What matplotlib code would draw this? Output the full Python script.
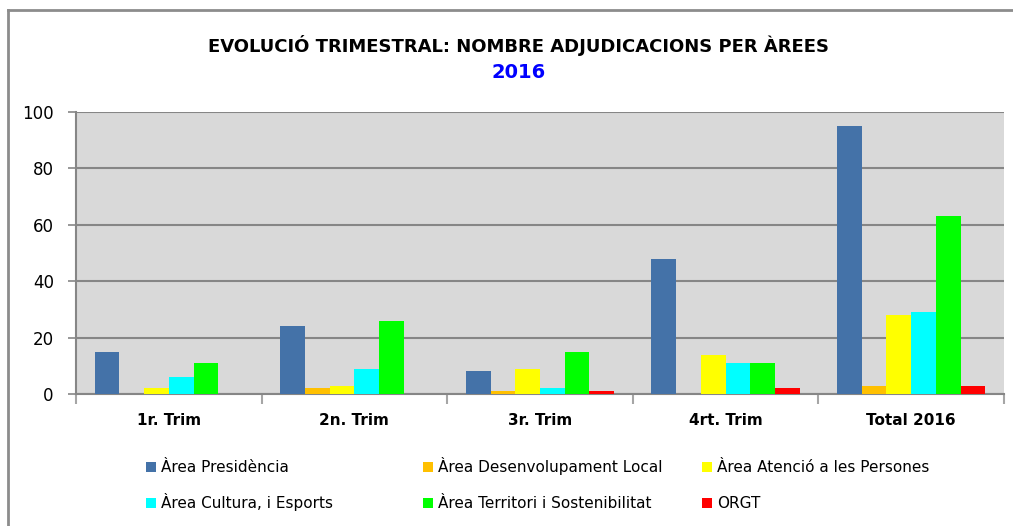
import matplotlib.pyplot as plt
from matplotlib.patches import Rectangle
import numpy as np

# === Dades ===
trimestres = ["1r. Trim", "2n. Trim", "3r. Trim", "4rt. Trim", "Total 2016"]
arees = ["Àrea Presidència", "Àrea Desenvolupament Local", "Àrea Atenció a les Persones",
         "Àrea Cultura, i Esports", "Àrea Territori i Sostenibilitat", "ORGT"]
presidencia = [15, 24, 8, 48, 95]
desenvolupament = [0, 2, 1, 0, 3]
atencio = [2, 3, 9, 14, 28]
cultura = [6, 9, 2, 11, 29]
territori = [11, 26, 15, 11, 63]
orgt = [0, 0, 1, 2, 3]
colors = ["#4472A8", "#FFC000", "#FFFF00", "#00FFFF", "#00FF00", "#FF0000"]

series = [presidencia, desenvolupament, atencio, cultura, territori, orgt]

fig = plt.figure(figsize=(10.13, 5.26), dpi=100)
W, H = 1013, 526
ax = fig.add_axes([76 / W, 1 - 394 / H, (1004 - 76) / W, (394 - 112) / H])
ax.set_facecolor("#D9D9D9")

x = np.arange(len(trimestres))
w = 0.8 / len(series)
for i, (vals, c, nom) in enumerate(zip(series, colors, arees)):
    ax.bar(x + (i - 2.5) * w, vals, width=w, color=c, label=nom, zorder=3)

ax.set_xlim(-0.5, len(trimestres) - 0.5)
ax.set_ylim(0, 100)
ax.set_yticks(range(0, 101, 20))
ax.yaxis.grid(True, color="#868686", linewidth=1.5, zorder=1)
ax.tick_params(axis="y", labelsize=12, length=6, color="#868686", width=1.2, pad=10)

ax.set_xticks(x)
ax.set_xticklabels(trimestres, fontsize=11, fontweight="bold")
ax.set_xticks(np.arange(-0.5, len(trimestres), 1), minor=True)
ax.tick_params(axis="x", which="major", length=0, pad=14)
ax.tick_params(axis="x", which="minor", length=7, color="#A6A6A6", width=1.5)

for s in ["top", "right"]:
    ax.spines[s].set_visible(False)
for s in ["left", "bottom"]:
    ax.spines[s].set_color("#868686")
    ax.spines[s].set_linewidth(1.5)

# === Títol ===
fig.text(519 / W, 1 - 45 / H, "EVOLUCIÓ TRIMESTRAL: NOMBRE ADJUDICACIONS PER ÀREES",
         ha="center", va="center", fontsize=13, fontweight="bold", color="black")
fig.text(519 / W, 1 - 72 / H, "2016", ha="center", va="center",
         fontsize=14, fontweight="bold", color="#0000FF")

# === Llegenda (3 columnes x 2 files) ===
col_x = [146, 423, 702]
row_y = [467, 503]
for k, (nom, c) in enumerate(zip(arees, colors)):
    mx = col_x[k % 3]
    my = row_y[k // 3]
    fig.add_artist(Rectangle((mx / W, 1 - (my + 5) / H), 10 / W, 10 / H,
                             facecolor=c, edgecolor="none", transform=fig.transFigure))
    fig.text((mx + 15) / W, 1 - (my + 5) / H, nom, ha="left", va="baseline", fontsize=11)

# === Vora ===
fig.add_artist(plt.Line2D([8 / W, 8 / W], [0, 1 - 10 / H], color="#8C8C8C", linewidth=2,
                          transform=fig.transFigure))
fig.add_artist(plt.Line2D([8 / W, 1], [1 - 10 / H, 1 - 10 / H], color="#8C8C8C", linewidth=2,
                          transform=fig.transFigure))

plt.savefig("out.png", dpi=100)
